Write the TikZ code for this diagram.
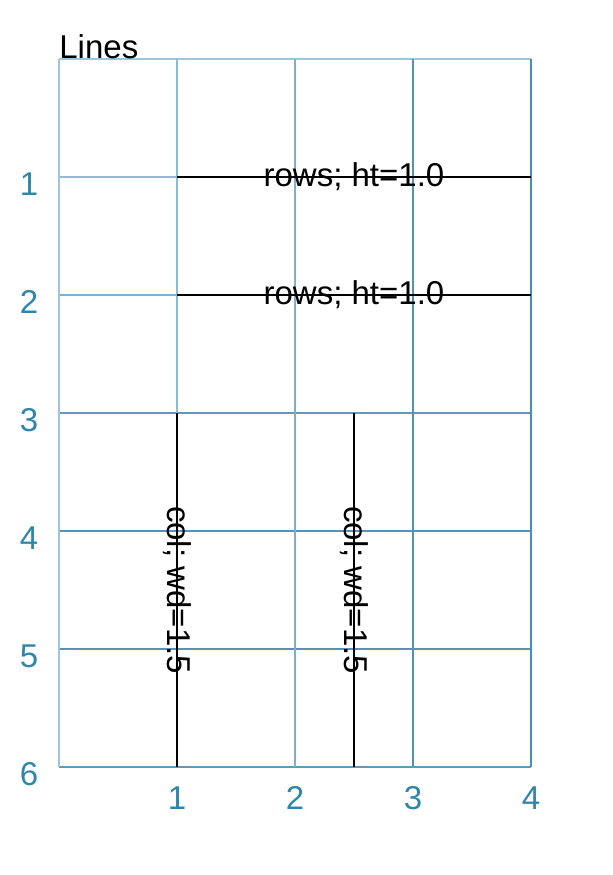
\documentclass[tikz,border=0pt]{standalone}
\usepackage{fontspec}
\setmainfont{Liberation Sans}
\definecolor{labc}{HTML}{2F86AD}
\definecolor{gA}{HTML}{9EC6DA}
\definecolor{gB}{HTML}{8DBDD5}
\definecolor{gC}{HTML}{7AB1CE}
\definecolor{gD}{HTML}{6399B8}
\definecolor{gE}{HTML}{5592B6}
\definecolor{gF}{HTML}{4490BD}
\tikzset{
  gridln/.style={line width=0.6pt},
  blk/.style={draw=black, line width=0.75pt},
  lbl/.style={text=labc, font=\fontsize{16.5pt}{19pt}\selectfont, inner sep=0pt},
  txt/.style={text=black, font=\fontsize{16.5pt}{19pt}\selectfont, inner sep=0pt}
}
\begin{document}
\begin{tikzpicture}[x=0.5pt,y=-0.5pt]
\useasboundingbox (0,0) rectangle (613,875);
% horizontal grid lines
\draw[gridln, gA] (59,59) -- (531,59);
\draw[gridln, gB] (59,177) -- (531,177);
\draw[gridln, gC] (59,295) -- (531,295);
\draw[gridln, gD] (59,413) -- (531,413);
\draw[gridln, gE] (59,531) -- (531,531);
\draw[gridln, gE] (59,649) -- (531,649);
\draw[gridln, gD] (59,767) -- (531,767);
% vertical grid lines
\draw[gridln, gA] (59,59) -- (59,767);
\draw[gridln, gB] (177,59) -- (177,767);
\draw[gridln, gC] (295,59) -- (295,767);
\draw[gridln, gE] (413,59) -- (413,767);
\draw[gridln, gF] (531,59) -- (531,767);
% black lines
\coordinate (r1a) at (177,177); \coordinate (r1b) at (531,177);
\coordinate (r2a) at (177,295); \coordinate (r2b) at (531,295);
\coordinate (c1a) at (177,413); \coordinate (c1b) at (177,767);
\coordinate (c2a) at (354,413); \coordinate (c2b) at (354,767);
\draw[blk] (r1a) -- (r1b);
\draw[blk] (r2a) -- (r2b);
\draw[blk] (c1a) -- (c1b);
\draw[blk] (c2a) -- (c2b);
% texts
\node[txt] (t1) at (354,177) {rows; ht=1.0};
\node[txt] (t2) at (354,295) {rows; ht=1.0};
\node[txt, rotate=-90] (t3) at (177,590) {col; wd=1.5};
\node[txt, rotate=-90] (t4) at (354,590) {col; wd=1.5};
\node[txt, anchor=base west] (title) at (59,58) {Lines};
% axis labels
\foreach \i/\y in {1/177,2/295,3/413,4/531,5/649,6/767}{
  \node[lbl] (yl\i) at (29,\y+7) {\i};
}
\foreach \i/\x in {1/177,2/295,3/413,4/531}{
  \node[lbl] (xl\i) at (\x,798) {\i};
}
\end{tikzpicture}
\end{document}
